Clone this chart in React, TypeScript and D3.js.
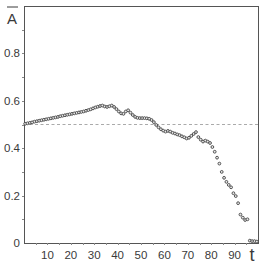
import * as d3 from "d3";
import { useEffect, useRef } from "react";

// A-bar over time t (one value per step)
const aValues = [
  0.503, 0.505, 0.507, 0.509, 0.512, 0.514, 0.516, 0.518, 0.52, 0.522,
  0.524, 0.526, 0.528, 0.53, 0.532, 0.535, 0.537, 0.539, 0.541, 0.543,
  0.545, 0.547, 0.549, 0.551, 0.553, 0.555, 0.558, 0.561, 0.564, 0.568,
  0.572, 0.575, 0.578, 0.58, 0.576, 0.574, 0.577, 0.58, 0.574, 0.565,
  0.555, 0.547, 0.545, 0.555, 0.56, 0.55, 0.54, 0.532, 0.528, 0.527,
  0.527, 0.527, 0.526, 0.524, 0.519, 0.51, 0.498, 0.488, 0.48, 0.474,
  0.47, 0.473, 0.47, 0.465, 0.462, 0.458, 0.455, 0.45, 0.446, 0.441,
  0.444, 0.452, 0.46, 0.468, 0.447, 0.436, 0.428, 0.432, 0.428, 0.422,
  0.405, 0.385, 0.36, 0.335, 0.3, 0.275, 0.258, 0.245, 0.235, 0.21,
  0.198, 0.168, 0.12, 0.107, 0.097, 0.1, 0.01, 0.008, 0.008, 0.006,
];
const refLevel = 0.5;
const xTickLabels = [10, 20, 30, 40, 50, 60, 70, 80, 90];
const yTickLabels = [0, 0.2, 0.4, 0.6, 0.8];

export default function App() {
  const svgRef = useRef<SVGSVGElement | null>(null);

  useEffect(() => {
    if (!svgRef.current) return;
    const svg = d3.select(svgRef.current);
    svg.selectAll("*").remove();

    const width = 273;
    const height = 267;
    const margin = { top: 6, right: 15, bottom: 24, left: 24 };
    const axisColor = "#555";
    const textColor = "#3a3a3a";
    const font = "'Liberation Sans', Arial, sans-serif";

    const x = d3
      .scaleLinear()
      .domain([0, 100])
      .range([margin.left, width - margin.right]);
    const y = d3
      .scaleLinear()
      .domain([0, 1])
      .range([height - margin.bottom, margin.top]);

    svg.attr("width", width).attr("height", height);

    // Frame
    svg
      .append("rect")
      .attr("x", margin.left)
      .attr("y", margin.top)
      .attr("width", width - margin.left - margin.right)
      .attr("height", height - margin.top - margin.bottom)
      .attr("fill", "none")
      .attr("stroke", axisColor)
      .attr("stroke-width", 1)
      .attr("shape-rendering", "crispEdges");

    // Minor ticks
    svg
      .append("g")
      .attr("transform", `translate(0,${y(0)})`)
      .call(
        d3
          .axisBottom(x)
          .tickValues(d3.range(5, 100, 5))
          .tickSize(2)
          .tickFormat(() => ""),
      );
    svg
      .append("g")
      .attr("transform", `translate(${margin.left},0)`)
      .call(
        d3
          .axisLeft(y)
          .tickValues(d3.range(0.1, 1, 0.1))
          .tickSize(2)
          .tickFormat(() => ""),
      );
    svg.selectAll(".domain").remove();
    svg
      .selectAll(".tick line")
      .attr("stroke", "#888")
      .attr("shape-rendering", "crispEdges");

    // Tick labels
    svg
      .append("g")
      .selectAll("text")
      .data(xTickLabels)
      .join("text")
      .attr("x", (d) => x(d))
      .attr("y", y(0) + 16)
      .attr("text-anchor", "middle")
      .attr("fill", textColor)
      .style("font-family", font)
      .style("font-size", "11.5px")
      .text((d) => d);
    svg
      .append("g")
      .selectAll("text")
      .data(yTickLabels)
      .join("text")
      .attr("x", margin.left - 4)
      .attr("y", (d) => y(d) + 4)
      .attr("text-anchor", "end")
      .attr("fill", textColor)
      .style("font-family", font)
      .style("font-size", "11.5px")
      .text((d) => (d === 0 ? "0" : d.toFixed(1)));

    // Reference line at 0.5
    svg
      .append("line")
      .attr("x1", x(0))
      .attr("x2", x(100))
      .attr("y1", y(refLevel))
      .attr("y2", y(refLevel))
      .attr("stroke", "#aaa")
      .attr("stroke-width", 1)
      .attr("stroke-dasharray", "3,2.5");

    // Data points
    svg
      .append("g")
      .selectAll("circle")
      .data(aValues)
      .join("circle")
      .attr("cx", (_, i) => x(i + 0.5))
      .attr("cy", (d) => y(d))
      .attr("r", 1.4)
      .attr("fill", "#e8e8e8")
      .attr("stroke", "#444")
      .attr("stroke-width", 0.9);

    // Axis titles
    svg
      .append("text")
      .attr("x", 7)
      .attr("y", 24)
      .attr("fill", textColor)
      .style("font-family", font)
      .style("font-size", "15px")
      .text("A");
    svg
      .append("line")
      .attr("x1", 7)
      .attr("x2", 18)
      .attr("y1", 7)
      .attr("y2", 7)
      .attr("stroke", textColor)
      .attr("stroke-width", 1);
    svg
      .append("text")
      .attr("x", 252)
      .attr("y", 261)
      .attr("text-anchor", "middle")
      .attr("fill", textColor)
      .style("font-family", font)
      .style("font-size", "18px")
      .text("t");
  }, []);

  return (
    <svg
      ref={svgRef}
      style={{ position: "absolute", left: 0, top: 0, background: "#fff" }}
    ></svg>
  );
}
